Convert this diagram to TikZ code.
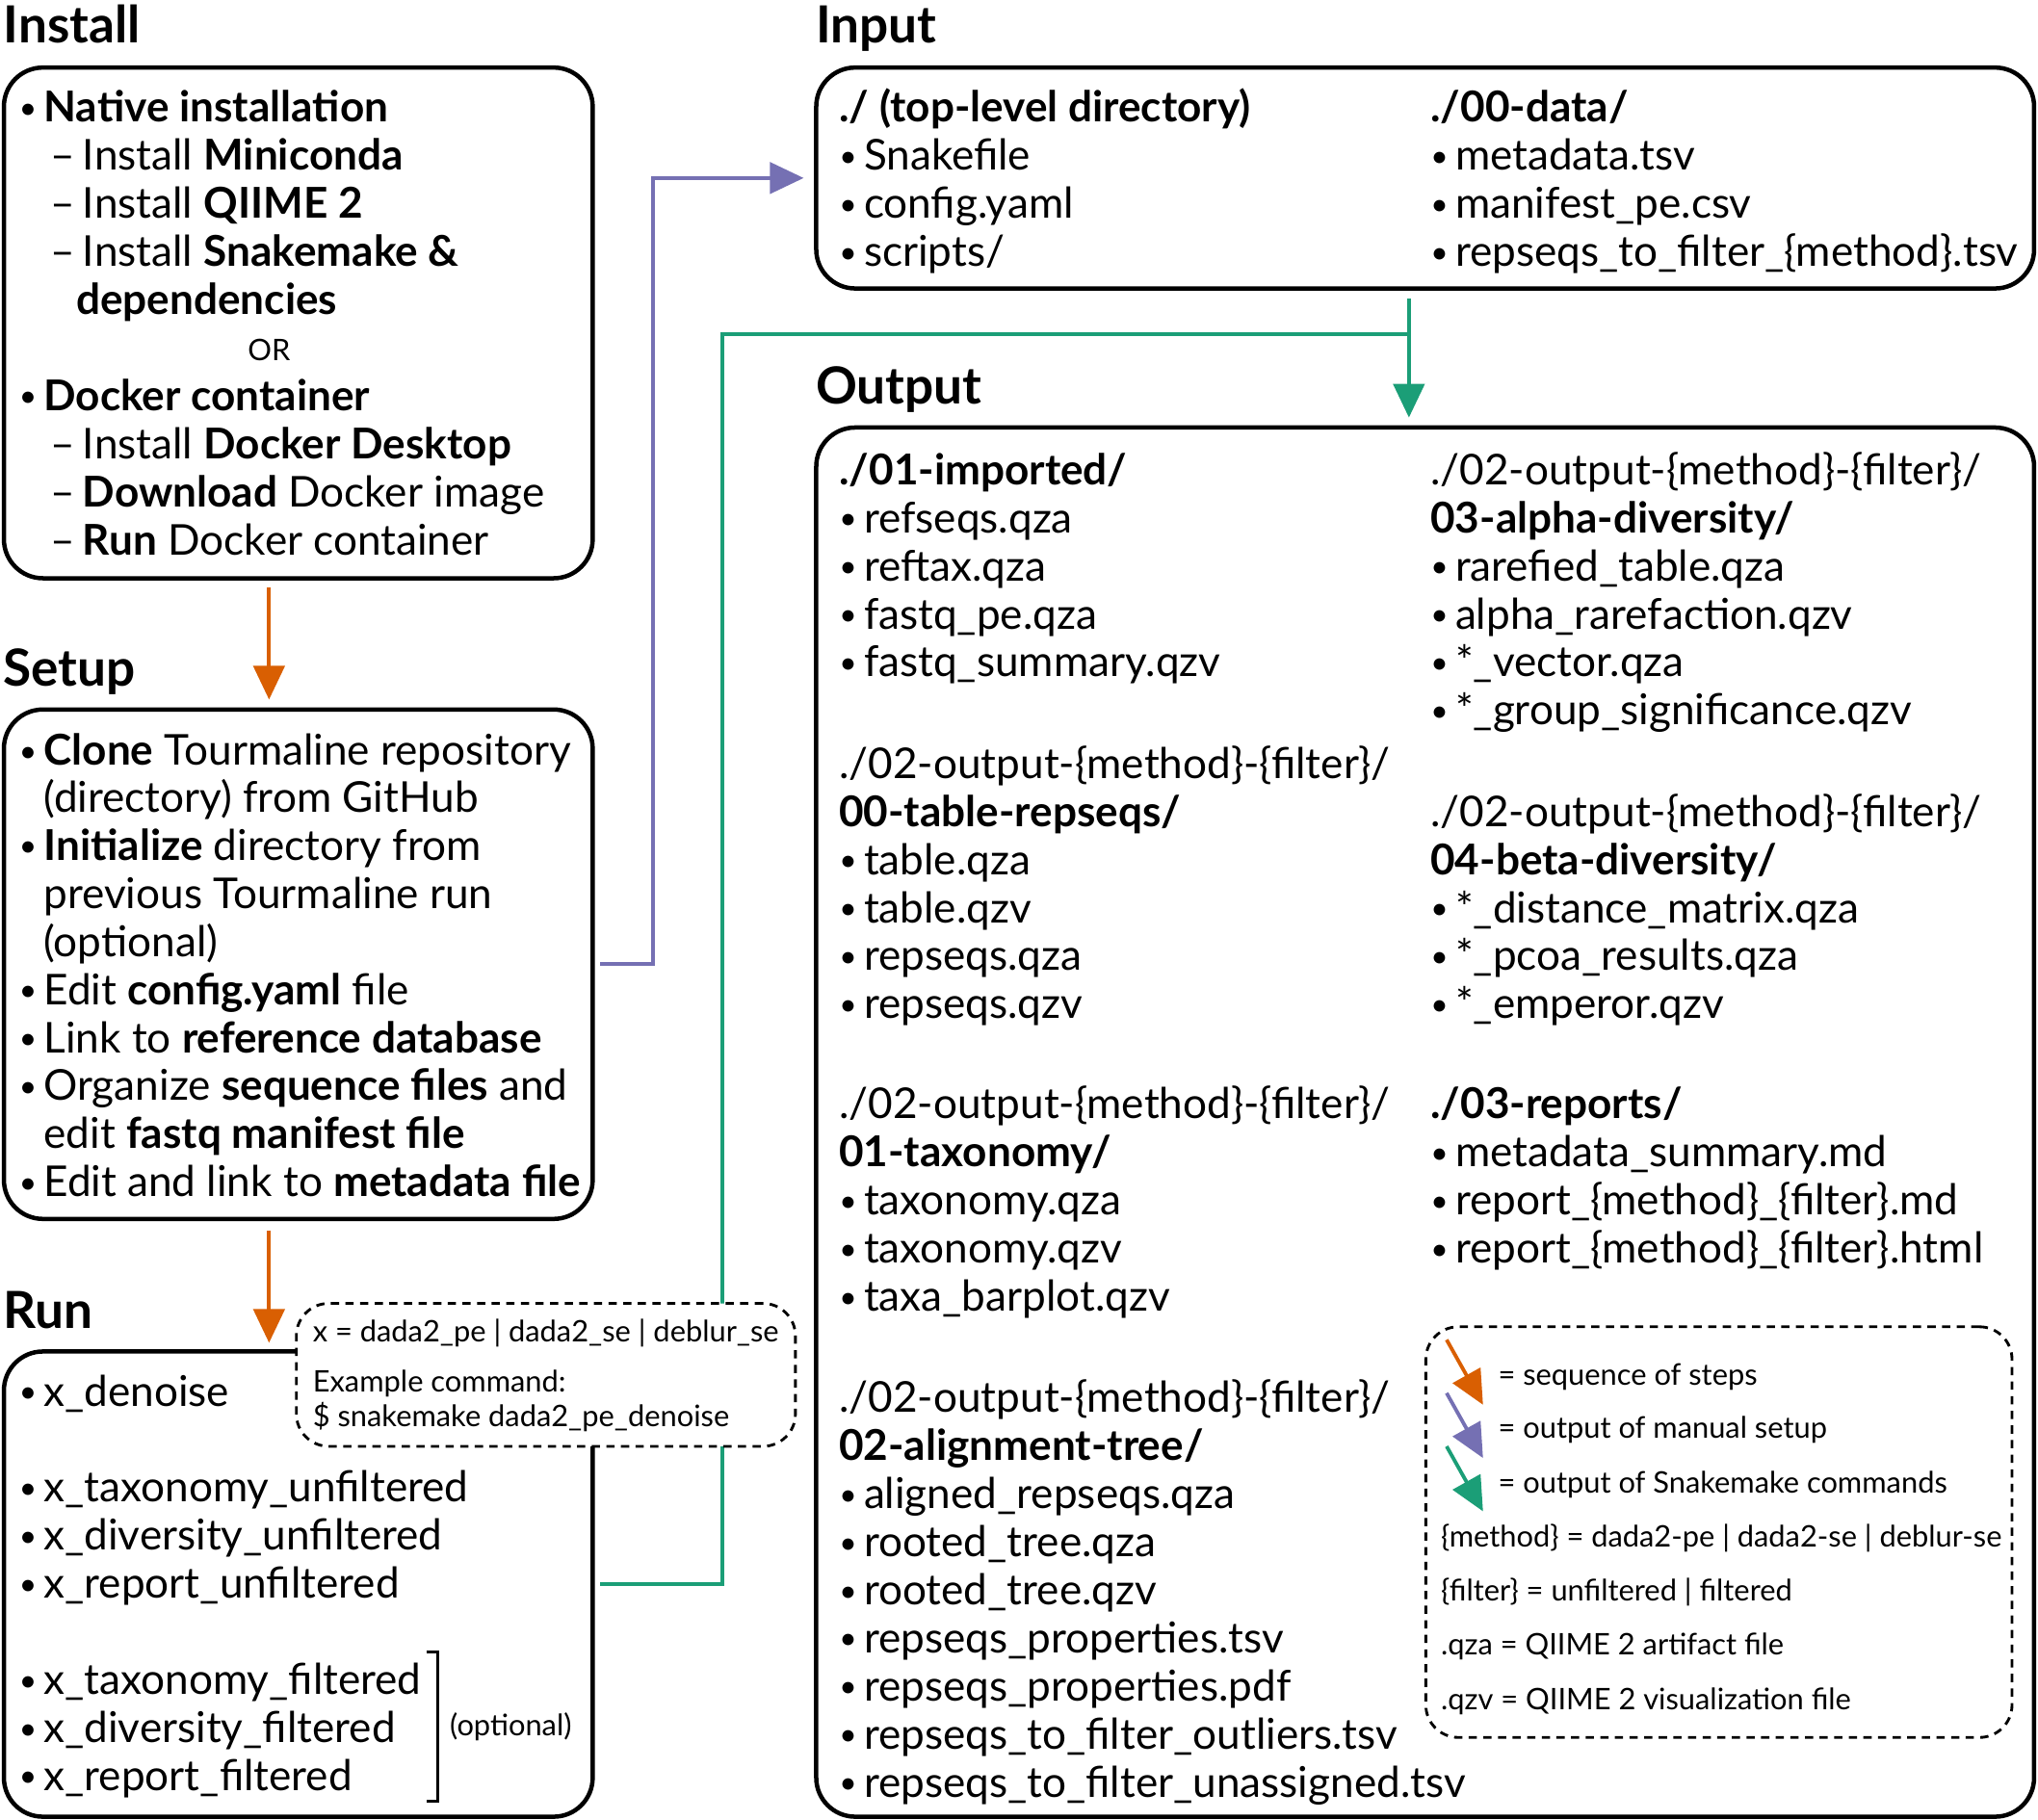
\documentclass[tikz,border=0pt]{standalone}
\usepackage{fontspec}
\usepackage{graphicx}
\setmainfont{Lato}
\usetikzlibrary{arrows.meta,positioning,fit,calc}

\definecolor{seqorange}{HTML}{D95F02}
\definecolor{setuppurple}{HTML}{7570B3}
\definecolor{snakegreen}{HTML}{1B9E77}

\newcommand{\bodytxt}{\fontsize{9.3}{10.5}\selectfont}
\newcommand{\smalltxt}{\fontsize{6.5}{8}\selectfont}
\newcommand{\headtxt}{\fontsize{11.2}{13}\selectfont\bfseries}
\newcommand{\itm}{\makebox[1.9mm][l]{\raisebox{.08em}{\scalebox{.72}{\textbullet}}}}
\newcommand{\subitm}{\hspace*{2.4mm}\makebox[2.5mm][l]{\textendash}}
\newcommand{\contd}{\hspace*{1.9mm}}

\tikzset{
    box/.style={draw, line width=0.95pt, rounded corners=3mm, inner sep=0pt},
    notebox/.style={draw, dash pattern=on 1.8pt off 1.4pt, line width=0.6pt, rounded corners=2.5mm, inner sep=0pt, fill=white},
    head/.style={anchor=west, inner sep=0pt, font=\headtxt, text height=8pt, text depth=0pt},
    txt/.style={anchor=west, inner sep=0pt, font=\bodytxt, text height=6.8pt, text depth=0pt},
    smalltxt/.style={anchor=west, inner sep=0pt, font=\smalltxt, text height=5pt, text depth=0pt},
    flow/.style={line width=0.8pt, -{Triangle[length=2.6mm,width=2.4mm]}},
    seqarrow/.style={flow, draw=seqorange},
    setuparrow/.style={flow, draw=setuppurple},
    snakearrow/.style={flow, draw=snakegreen},
    snakeline/.style={line width=0.8pt, draw=snakegreen}
}

\begin{document}
\begin{tikzpicture}[x=0.1mm, y=-0.1mm]
    \useasboundingbox (0,0) rectangle (1568,1400);

    % Boxes
    \node[box, fit={(3,52) (456,445)}] (install) {};
    \node[box, fit={(3,546) (456,938)}] (setup) {};
    \node[box, fit={(3,1040) (456,1398)}] (run) {};
    \node[box, fit={(628,52) (1565,222)}] (input) {};
    \node[box, fit={(628,329) (1565,1398)}] (output) {};

    % Headings
    \node[head] (hinstall) at (2,19) {Install};
    \node[head] (hsetup) at (2,514) {Setup};
    \node[head] (hrun) at (2,1008) {Run};
    \node[head] (hinput) at (627,19) {Input};
    \node[head] (houtput) at (627,297) {Output};

    % Arrows between steps
    \coordinate (spine) at (207,0);
    \coordinate (fork) at (1084,257);
    \draw[seqarrow, shorten <=0.5mm, shorten >=0.6mm] (install.south -| spine) -- (setup.north -| spine);
    \draw[seqarrow, shorten <=0.7mm, shorten >=0.5mm] (setup.south -| spine) -- (run.north -| spine);
    \draw[setuparrow, shorten <=0.4mm, shorten >=0.8mm] (setup.east) -- ++(45,0) |- (input.west);
    \draw[snakeline, shorten <=0.4mm] (run.east) -- ++(98,0) |- (fork);
    \draw[snakearrow, shorten <=0.6mm, shorten >=0.6mm] (fork |- input.south) -- (fork |- output.north);

    % Dashed boxes go over the lines
    \node[notebox, fit={(228,1003) (612,1113)}] (cmdnote) {};
    \node[notebox, fit={(1097,1021) (1548,1337)}] (legend) {};

    % Install
    \foreach \y/\t [count=\i] in {82/{\itm\textbf{Native installation}},
        119/{\subitm Install \textbf{Miniconda}},
        156/{\subitm Install \textbf{QIIME 2}},
        193/{\subitm Install \textbf{Snakemake \&}},
        230/{\hspace*{4.4mm}\textbf{dependencies}},
        304/{\itm\textbf{Docker container}},
        341/{\subitm Install \textbf{Docker Desktop}},
        378/{\subitm\textbf{Download} Docker image},
        415/{\subitm\textbf{Run} Docker container}}
        \node[txt] (inst\i) at (14,\y) {\t};
    \node[smalltxt, anchor=center] (instor) at (207,269) {OR};

    % Setup
    \foreach \y/\t [count=\i] in {577/{\itm\textbf{Clone} Tourmaline repository},
        613/{\contd(directory) from GitHub},
        650/{\itm\textbf{Initialize} directory from},
        687/{\contd previous Tourmaline run},
        724/{\contd(optional)},
        761/{\itm Edit \textbf{config.yaml} file},
        798/{\itm Link to \textbf{reference database}},
        835/{\itm Organize \textbf{sequence files} and},
        872/{\contd edit \textbf{fastq manifest file}},
        909/{\itm Edit and link to \textbf{metadata file}}}
        \node[txt] (set\i) at (14,\y) {\t};

    % Run
    \foreach \y/\t [count=\i] in {1070/{x\_denoise},
        1144/{x\_taxonomy\_unfiltered},
        1181/{x\_diversity\_unfiltered},
        1218/{x\_report\_unfiltered},
        1292/{x\_taxonomy\_filtered},
        1329/{x\_diversity\_filtered},
        1366/{x\_report\_filtered}}
        \node[txt] (run\i) at (14,\y) {\itm\t};
    \draw[line width=0.6pt] (328,1271) -- (337,1271) -- (337,1386) -- (328,1386);
    \node[smalltxt, anchor=center] (runopt) at (393,1327) {(optional)};

    % Example command
    \node[smalltxt] (cmd1) at (240,1024) {x = dada2\_pe | dada2\_se | deblur\_se};
    \node[smalltxt] (cmd2) at (240,1062) {Example command:};
    \node[smalltxt] (cmd3) at (240,1089) {\$ snakemake dada2\_pe\_denoise};

    % Input
    \foreach \y/\t [count=\i] in {82/{\textbf{./ (top-level directory)}},
        119/{\itm Snakefile}, 156/{\itm config.yaml}, 193/{\itm scripts/}}
        \node[txt] (inl\i) at (645,\y) {\t};
    \foreach \y/\t [count=\i] in {82/{\textbf{./00-data/}},
        119/{\itm metadata.tsv}, 156/{\itm manifest\_pe.csv},
        193/{\itm repseqs\_to\_filter\_\{method\}.tsv}}
        \node[txt] (inr\i) at (1100,\y) {\t};

    % Output, left column
    \foreach \y/\t [count=\i] in {361/{\textbf{./01-imported/}},
        398/{\itm refseqs.qza}, 435/{\itm reftax.qza},
        472/{\itm fastq\_pe.qza}, 509/{\itm fastq\_summary.qzv},
        587/{./02-output-\{method\}-\{filter\}/},
        624/{\textbf{00-table-repseqs/}},
        661/{\itm table.qza}, 698/{\itm table.qzv},
        735/{\itm repseqs.qza}, 772/{\itm repseqs.qzv},
        849/{./02-output-\{method\}-\{filter\}/},
        886/{\textbf{01-taxonomy/}},
        923/{\itm taxonomy.qza}, 960/{\itm taxonomy.qzv},
        997/{\itm taxa\_barplot.qzv},
        1075/{./02-output-\{method\}-\{filter\}/},
        1112/{\textbf{02-alignment-tree/}},
        1149/{\itm aligned\_repseqs.qza}, 1186/{\itm rooted\_tree.qza},
        1223/{\itm rooted\_tree.qzv}, 1260/{\itm repseqs\_properties.tsv},
        1297/{\itm repseqs\_properties.pdf},
        1334/{\itm repseqs\_to\_filter\_outliers.tsv},
        1371/{\itm repseqs\_to\_filter\_unassigned.tsv}}
        \node[txt] (outl\i) at (645,\y) {\t};

    % Output, right column
    \foreach \y/\t [count=\i] in {361/{./02-output-\{method\}-\{filter\}/},
        398/{\textbf{03-alpha-diversity/}},
        435/{\itm rarefied\_table.qza}, 472/{\itm alpha\_rarefaction.qzv},
        509/{\itm *\_vector.qza}, 546/{\itm *\_group\_significance.qzv},
        624/{./02-output-\{method\}-\{filter\}/},
        661/{\textbf{04-beta-diversity/}},
        698/{\itm *\_distance\_matrix.qza}, 735/{\itm *\_pcoa\_results.qza},
        772/{\itm *\_emperor.qzv},
        849/{\textbf{./03-reports/}},
        886/{\itm metadata\_summary.md},
        923/{\itm report\_\{method\}\_\{filter\}.md},
        960/{\itm report\_\{method\}\_\{filter\}.html}}
        \node[txt] (outr\i) at (1100,\y) {\t};

    % Legend
    \draw[seqarrow] (1113,1031) -- (1141,1081);
    \draw[setuparrow] (1113,1072) -- (1141,1122);
    \draw[snakearrow] (1113,1113) -- (1141,1163);
    \node[smalltxt] (leg1) at (1152,1057) {= sequence of steps};
    \node[smalltxt] (leg2) at (1152,1098) {= output of manual setup};
    \node[smalltxt] (leg3) at (1152,1140) {= output of Snakemake commands};
    \node[smalltxt] (leg4) at (1108,1182) {\{method\} = dada2-pe | dada2-se | deblur-se};
    \node[smalltxt] (leg5) at (1108,1223) {\{filter\} = unfiltered | filtered};
    \node[smalltxt] (leg6) at (1108,1265) {.qza = QIIME 2 artifact file};
    \node[smalltxt] (leg7) at (1108,1307) {.qzv = QIIME 2 visualization file};
\end{tikzpicture}
\end{document}
